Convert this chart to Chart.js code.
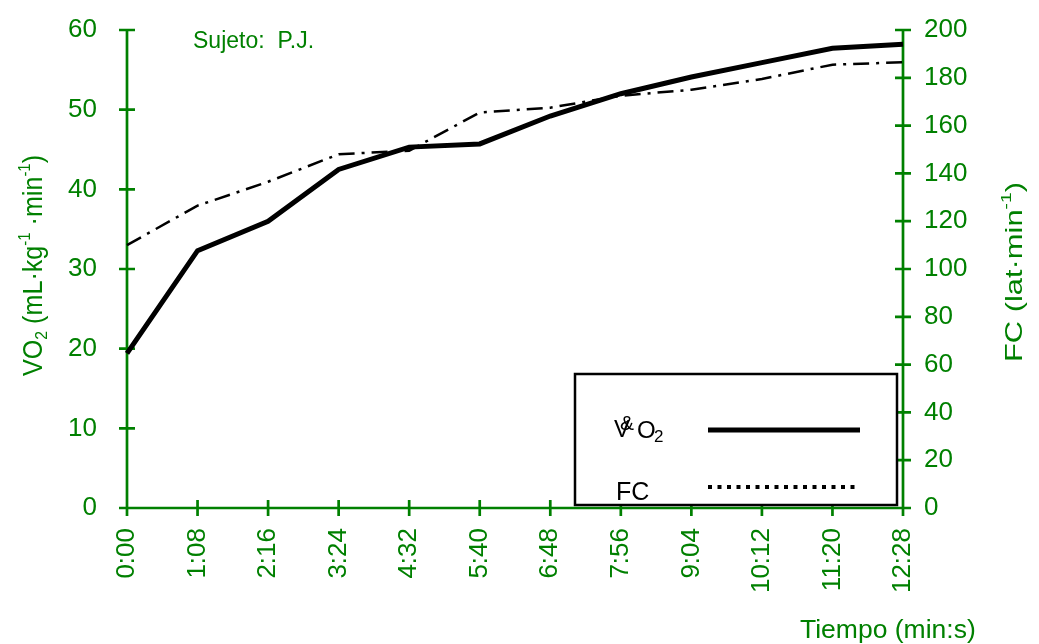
<!DOCTYPE html>
<html>
<head>
<meta charset="utf-8">
<script src="https://cdn.jsdelivr.net/npm/chart.js@4"></script>
<style>
  html, body { margin: 0; padding: 0; background: #fff; }
</style>
</head>
<body>
<canvas id="chart" width="1039" height="644"></canvas>
<script>
const GREEN = "#008000";
const FONT = "'Liberation Sans', Arial, sans-serif";

// data
const timeLabels = ["0:00", "1:08", "2:16", "3:24", "4:32", "5:40", "6:48", "7:56", "9:04", "10:12", "11:20", "12:28"];
const vo2Values = [19.4, 32.3, 36.0, 42.5, 45.3, 45.7, 49.2, 52.0, 54.1, 55.9, 57.7, 58.2];
const fcValues = [110, 126.5, 136.5, 148, 149.5, 165.5, 167.5, 172.5, 175, 179.5, 185.5, 186.5];

const vo2Ticks = { min: 0, max: 60, step: 10 };
const fcTicks = { min: 0, max: 200, step: 20 };

// draws a run of text pieces (normal / sub / sup) along a baseline
function drawRich(ctx, parts, x, y, rot, length) {
    ctx.save();
    ctx.translate(x, y);
    ctx.rotate(rot);
    let w = 0;
    for (const p of parts) {
        ctx.font = `${p.size}px ${FONT}`;
        w += ctx.measureText(p.t).width;
    }
    if (length) ctx.scale(length / w, 1);
    let cx = 0;
    ctx.textBaseline = "alphabetic";
    ctx.textAlign = "left";
    for (const p of parts) {
        ctx.font = `${p.size}px ${FONT}`;
        ctx.fillText(p.t, cx, p.dy || 0);
        cx += ctx.measureText(p.t).width;
    }
    ctx.restore();
}

const axesPlugin = {
    id: "axes",
    beforeDatasetsDraw(chart) {
        const { ctx, chartArea: a, scales } = chart;
        ctx.save();
        ctx.strokeStyle = GREEN;
        ctx.lineWidth = 2.7;
        ctx.beginPath();
        ctx.moveTo(a.left, a.top); ctx.lineTo(a.left, a.bottom);
        ctx.moveTo(a.right, a.top); ctx.lineTo(a.right, a.bottom);
        ctx.moveTo(a.left, a.bottom); ctx.lineTo(a.right, a.bottom);
        scales.y.ticks.forEach((t, i) => {
            const py = scales.y.getPixelForTick(i);
            ctx.moveTo(a.left - 8, py); ctx.lineTo(a.left + 8, py);
        });
        scales.y1.ticks.forEach((t, i) => {
            const py = scales.y1.getPixelForTick(i);
            ctx.moveTo(a.right - 8, py); ctx.lineTo(a.right + 8, py);
        });
        scales.x.ticks.forEach((t, i) => {
            const px = scales.x.getPixelForTick(i);
            ctx.moveTo(px, a.bottom - 8); ctx.lineTo(px, a.bottom + 8);
        });
        ctx.stroke();
        ctx.restore();
    },
    afterDatasetsDraw(chart) {
        const { ctx } = chart;
        ctx.save();

        // legend box
        ctx.fillStyle = "#fff";
        ctx.fillRect(575, 374, 322, 131);
        ctx.strokeStyle = "#000";
        ctx.lineWidth = 2.5;
        ctx.strokeRect(575, 374, 322, 131);

        ctx.fillStyle = "#000";
        ctx.font = `24px ${FONT}`;
        ctx.fillText("V", 614, 437);
        ctx.font = `21px ${FONT}`;
        ctx.fillText("&", 620, 430);
        ctx.font = `24px ${FONT}`;
        ctx.fillText("O", 637, 438);
        ctx.font = `17px ${FONT}`;
        ctx.fillText("2", 654, 442);
        ctx.font = `25px ${FONT}`;
        ctx.fillText("FC", 616, 500);

        ctx.beginPath();
        ctx.lineWidth = 5;
        ctx.moveTo(708, 430); ctx.lineTo(860, 430);
        ctx.stroke();
        ctx.beginPath();
        ctx.lineWidth = 4;
        ctx.setLineDash([4, 5.5]);
        ctx.moveTo(708, 487); ctx.lineTo(860, 487);
        ctx.stroke();
        ctx.setLineDash([]);

        // texts
        ctx.fillStyle = GREEN;
        ctx.font = `23px ${FONT}`;
        ctx.fillText("Sujeto:  P.J.", 193, 48);
        ctx.font = `26.5px ${FONT}`;
        ctx.fillText("Tiempo (min:s)", 800, 638);

        drawRich(ctx, [
            { t: "VO", size: 27 },
            { t: "2", size: 17, dy: 5 },
            { t: " (mL·kg", size: 27 },
            { t: "-1", size: 16, dy: -12 },
            { t: " ·min", size: 27 },
            { t: "-1", size: 16, dy: -12 },
            { t: ")", size: 27 }
        ], 42, 376, -Math.PI / 2, 221);

        drawRich(ctx, [
            { t: "FC (lat·min", size: 24 },
            { t: "-1", size: 15, dy: -11 },
            { t: ")", size: 24 }
        ], 1022, 362, -Math.PI / 2, 180);

        ctx.restore();
    }
};

const ctx = document.getElementById("chart").getContext("2d");
new Chart(ctx, {
    type: "line",
    data: {
        labels: timeLabels,
        datasets: [{
            label: "VO2",
            data: vo2Values,
            yAxisID: "y",
            borderColor: "#000",
            borderWidth: 5,
            pointRadius: 0,
            tension: 0,
            fill: false
        }, {
            label: "FC",
            data: fcValues,
            yAxisID: "y1",
            borderColor: "#000",
            borderWidth: 2.5,
            borderDash: [16, 7, 3, 7],
            pointRadius: 0,
            tension: 0,
            fill: false
        }]
    },
    options: {
        responsive: false,
        animation: false,
        layout: { padding: { top: 30, left: 0, right: 0, bottom: 0 } },
        plugins: { legend: { display: false }, tooltip: { enabled: false } },
        scales: {
            x: {
                type: "category",
                offset: false,
                grid: { display: false, drawTicks: false },
                border: { display: false },
                ticks: {
                    color: GREEN, font: { family: FONT, size: 26 },
                    minRotation: 90, maxRotation: 90, autoSkip: false, padding: 20
                },
                afterFit: s => { s.height = 136; s.paddingLeft = 0; s.paddingRight = 0; }
            },
            y: {
                position: "left",
                min: vo2Ticks.min, max: vo2Ticks.max,
                grid: { display: false, drawTicks: false },
                border: { display: false },
                ticks: { stepSize: vo2Ticks.step, color: GREEN, font: { family: FONT, size: 26 }, padding: 30 },
                afterFit: s => { s.width = 127; s.paddingTop = 0; s.paddingBottom = 0; }
            },
            y1: {
                position: "right",
                min: fcTicks.min, max: fcTicks.max,
                grid: { display: false, drawTicks: false },
                border: { display: false },
                ticks: { stepSize: fcTicks.step, color: GREEN, font: { family: FONT, size: 26 }, padding: 21 },
                afterFit: s => { s.width = 136; s.paddingTop = 0; s.paddingBottom = 0; }
            }
        }
    },
    plugins: [axesPlugin]
});
</script>
</body>
</html>
